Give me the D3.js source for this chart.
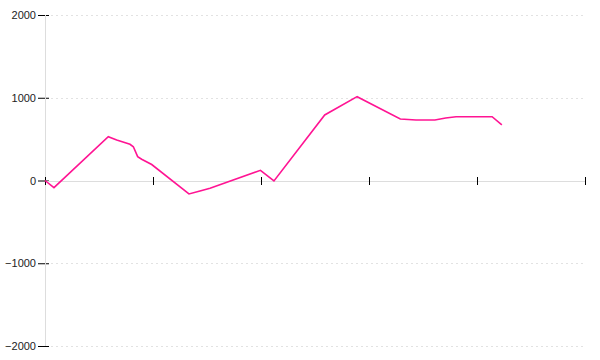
<!DOCTYPE html>
<html>
<head>
<meta charset="utf-8">
<script src="https://cdn.jsdelivr.net/npm/d3@7"></script>
<style>
  body { margin: 0; background: #fff; }
  svg { display: block; }
</style>
</head>
<body>
<div id="chart"></div>
<script>
const w = 600,
      h = 360;

const margin = {top: 15, right: 15, bottom: 14, left: 45};

// x positions of the series, y values
const xValues = [0, 0.83, 5.86, 6.64, 7.87, 8.18, 8.58, 8.95, 9.88, 13.33, 14.35, 15.28, 19.95, 21.2,
                 25.9, 28.9, 32.9, 34.35, 36.1, 37.1, 38.06, 41.4, 42.3];
const yValues = [0, -87, 529, 489, 437, 408, 288, 257, 193, -163, -127, -94, 123, -5,
                 792, 1013, 743, 731, 731, 755, 771, 771, 671];

const xTicks = [0, 10, 20, 30, 40, 50];
const yTicks = [-2000, -1000, 0, 1000, 2000];
const yGrid = [-2000, -1000, 1000, 2000];

const innerW = w - margin.left - margin.right,
      innerH = h - margin.top - margin.bottom;

const svg = d3.select("#chart")
  .append("svg")
  .attr("width", w)
  .attr("height", h)
  .append("g")
  .attr("transform", "translate(" + margin.left + "," + margin.top + ")");

const x = d3.scaleLinear().domain([0, 50]).range([0, innerW]);
const y = d3.scaleLinear().domain([-2000, 2000]).range([innerH, 0]);

// grid lines
svg.append("g")
  .selectAll("line")
  .data(yGrid)
  .enter()
  .append("line")
  .attr("x1", 6)
  .attr("x2", innerW)
  .attr("y1", d => Math.round(y(d)) + 0.5)
  .attr("y2", d => Math.round(y(d)) + 0.5)
  .style("stroke", "#e2e2e2")
  .style("stroke-dasharray", "2,3");

// y axis
let yAxis = d3.axisLeft(y).tickValues(yTicks).tickSize(7).tickPadding(2).tickFormat(d3.format("d"));
let yAxisGroup = svg.append("g").call(yAxis);
yAxisGroup.select(".domain").remove();
yAxisGroup.selectAll(".tick line")
  .attr("x1", 4)
  .style("stroke", "#000");
yAxisGroup.selectAll(".tick text")
  .style("font-family", "Liberation Sans, Arial, sans-serif")
  .style("font-size", "11px")
  .style("fill", "#222");

// axis lines
svg.append("line")
  .attr("x1", 0.5).attr("x2", 0.5)
  .attr("y1", 0).attr("y2", innerH)
  .style("stroke", "#ddd");

svg.append("line")
  .attr("x1", 0).attr("x2", innerW)
  .attr("y1", Math.round(y(0)) + 0.5).attr("y2", Math.round(y(0)) + 0.5)
  .style("stroke", "#ddd");

// x axis ticks, no labels
let xAxis = d3.axisBottom(x).tickValues(xTicks).tickSize(4).tickFormat("");
let xAxisGroup = svg.append("g")
  .attr("transform", "translate(0," + Math.round(y(0)) + ")")
  .call(xAxis);
xAxisGroup.select(".domain").remove();
xAxisGroup.selectAll(".tick line")
  .attr("y1", -4)
  .style("stroke", "#000");

// the series
const data = xValues.map((d, i) => [d, yValues[i]]);

svg.append("path")
  .datum(data)
  .attr("d", d3.line().x(d => x(d[0])).y(d => y(d[1])))
  .style("fill", "none")
  .style("stroke", "#ff1493")
  .style("stroke-width", 1.6);
</script>
</body>
</html>
